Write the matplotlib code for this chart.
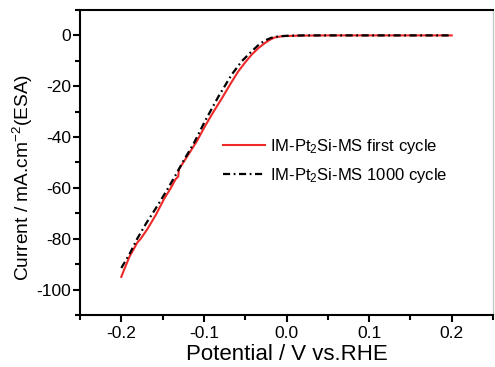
import matplotlib
matplotlib.use("Agg")
import matplotlib.pyplot as plt
from matplotlib.ticker import MultipleLocator

plt.rcParams['font.family'] = ['Liberation Sans', 'DejaVu Sans']
plt.rcParams['mathtext.fontset'] = 'custom'
plt.rcParams['mathtext.rm'] = 'Liberation Sans'
plt.rcParams['mathtext.it'] = 'Liberation Sans'

# first cycle (red)
red_v = [-0.200, -0.197, -0.190, -0.1804, -0.177, -0.1684, -0.158, -0.1483,
         -0.140, -0.1343, -0.131, -0.1303, -0.120, -0.1083, -0.0983, -0.0883,
         -0.0783, -0.0683, -0.0583, -0.050, -0.0423, -0.034, -0.0262, -0.020,
         -0.0142, -0.005, 0.0138, 0.05, 0.10, 0.15, 0.20]
red_i = [-95.0, -92.5, -87.0, -81.4, -80.2, -76.2, -70.5, -64.4,
         -60.0, -56.6, -55.5, -52.7, -47.5, -41.5, -35.5, -30.0,
         -24.8, -19.3, -14.1, -10.6, -7.6, -5.0, -3.0, -1.7,
         -0.8, -0.3, -0.1, 0.0, 0.0, 0.0, 0.0]

# after 1000 cycles (black dash-dot)
black_v = [-0.200, -0.190, -0.1804, -0.170, -0.1564, -0.145, -0.1343, -0.125,
           -0.1123, -0.0983, -0.0823, -0.0663, -0.0543, -0.0423, -0.034, -0.0262,
           -0.018, -0.010, 0.0, 0.02, 0.10, 0.20]
black_i = [-91.5, -86.0, -79.8, -74.0, -67.1, -61.0, -55.0, -49.5,
           -42.5, -33.5, -24.0, -15.4, -10.2, -6.3, -3.8, -2.0,
           -0.9, -0.4, -0.15, 0.0, 0.0, 0.0]

labels = ['IM-Pt$_2$Si-MS first cycle', 'IM-Pt$_2$Si-MS 1000 cycle']

fig = plt.figure(figsize=(4.95, 3.67), dpi=100)
ax = fig.add_axes([0.1616, 0.1417, 0.996 - 0.1616, 0.9728 - 0.1417])

ax.plot(red_v, red_i, color='#f02828', lw=1.5, label=labels[0])
ax.plot(black_v, black_i, color='black', lw=1.6, dashes=(3.2, 1.6, 0.8, 1.6), label=labels[1])

ax.set_xlim(-0.25, 0.25)
ax.set_ylim(-110, 10)
ax.xaxis.set_minor_locator(MultipleLocator(0.05))
ax.yaxis.set_minor_locator(MultipleLocator(10))
ax.set_xticks([-0.2, -0.1, 0.0, 0.1, 0.2])
ax.set_xticklabels(['-0.2', '-0.1', '0.0', '0.1', '0.2'])
ax.set_yticks([0, -20, -40, -60, -80, -100])
ax.set_yticklabels(['0', '-20', '-40', '-60', '-80', '-100'])

for s in ['left', 'bottom', 'top']:
    ax.spines[s].set_linewidth(1.5)
ax.spines['right'].set_linewidth(1.0)
ax.spines['right'].set_color('#c8c8c8')

ax.tick_params(which='major', direction='out', length=5, width=1.5, labelsize=12.5,
               top=False, right=False)
ax.tick_params(axis='y', which='major', pad=1.5)
ax.tick_params(axis='x', which='major', pad=3)
ax.tick_params(which='minor', direction='out', length=3.5, width=1.5, top=False, right=False)

ax.set_xlabel('Potential / V vs.RHE', fontsize=16, labelpad=2)
ax.set_ylabel('Current / mA.cm$^{-2}$(ESA)', fontsize=13.8)
ax.yaxis.set_label_coords(-0.108, 0.45)

ax.legend(loc='upper left', bbox_to_anchor=(223 / 495, 1 - 137 / 367),
          bbox_transform=fig.transFigure, frameon=False, fontsize=12,
          handlelength=2.5, handletextpad=0.35, labelspacing=0.6,
          borderpad=0, borderaxespad=0)

fig.savefig('out.png', dpi=100)
